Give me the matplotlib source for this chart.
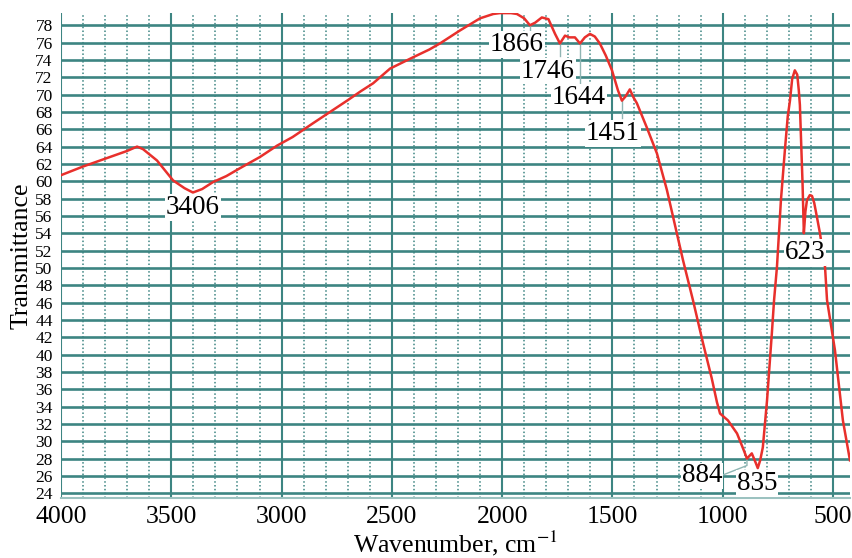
"""
Espectro IR (transmitancia vs numero de onda)
"""
import numpy as np
import matplotlib.pyplot as plt
from matplotlib.ticker import MultipleLocator

# datos
wavenumber = [4000, 3900, 3800, 3700, 3655, 3628, 3565, 3492, 3440, 3402,
              3360, 3311, 3250, 3189, 3098, 3021, 2950, 2857, 2780, 2703,
              2640, 2585, 2508, 2404, 2330, 2282, 2191, 2100, 2040, 2010,
              1960, 1933, 1900, 1874, 1850, 1820, 1790, 1760, 1738, 1715,
              1695, 1670, 1647, 1625, 1602, 1580, 1557, 1530, 1502, 1475,
              1457, 1440, 1421, 1405, 1389, 1344, 1298, 1253, 1225, 1180,
              1135, 1089, 1050, 1026, 1012, 976, 935, 905, 890, 868,
              850, 841, 830, 818, 799, 777, 767, 754, 736, 718,
              705, 695, 685, 673, 662, 655, 650, 645, 638, 632,
              625, 618, 605, 595, 585, 570, 559, 536, 527, 491,
              455, 423]
transmittance = [60.7, 61.7, 62.6, 63.5, 64.0, 63.7, 62.4, 60.1, 59.2, 58.7,
                 59.1, 59.9, 60.6, 61.5, 62.8, 64.1, 65.1, 66.7, 68.0, 69.3,
                 70.4, 71.3, 73.0, 74.3, 75.2, 75.9, 77.4, 78.8, 79.3, 79.4,
                 79.4, 79.3, 78.8, 78.0, 78.3, 78.9, 78.7, 77.0, 75.9, 76.8,
                 76.6, 76.6, 75.9, 76.6, 77.0, 76.7, 75.9, 74.5, 72.8, 70.5,
                 69.3, 69.8, 70.6, 69.7, 69.0, 66.2, 63.2, 59.0, 55.9, 50.9,
                 46.3, 41.3, 37.3, 34.5, 33.2, 32.4, 30.9, 29.0, 28.0, 28.6,
                 27.5, 26.9, 27.8, 29.3, 34.7, 42.5, 46.3, 50.1, 57.8, 63.6,
                 67.5, 69.3, 71.8, 72.8, 72.3, 70.5, 68.8, 65.0, 59.8, 54.0,
                 56.5, 57.8, 58.4, 58.3, 57.5, 55.5, 54.0, 50.1, 46.3, 40.5,
                 32.4, 27.8]

# picos marcados: etiqueta y posicion del texto
peak_labels = ["3406", "1866", "1746", "1644", "1451", "884", "835", "623"]
peak_text_x = [3402, 1933, 1792, 1651, 1497, 1094, 844, 627]
peak_text_y = [57.0, 75.8, 72.7, 69.7, 65.5, 26.0, 25.1, 51.8]

teal = "#3d8582"
guide = "#8fb5b3"

plt.rcParams['font.family'] = ['Liberation Serif', 'DejaVu Serif']
plt.rcParams['mathtext.fontset'] = 'stix'

fig = plt.figure(figsize=(8.52, 5.58), dpi=100)
ax = fig.add_axes([0.0716, 0.1075, 0.926, 0.869])

ax.plot(wavenumber, transmittance, color="#e8302c", lw=1.8, zorder=3)

# lineas guia de los picos
ax.plot([1874, 1874], [78.0, 77.0], color=guide, lw=1, zorder=2)
ax.plot([1738, 1738], [75.9, 74.4], color=guide, lw=1, zorder=2)
ax.plot([1647, 1647], [75.9, 71.2], color=guide, lw=1, zorder=2)
ax.plot([1457, 1457], [69.3, 67.3], color=guide, lw=1, zorder=2)
ax.plot([1010, 890, 890], [26.0, 27.2, 28.0], color=guide, lw=1, zorder=2)

for lab, tx, ty in zip(peak_labels, peak_text_x, peak_text_y):
    ax.text(tx, ty, lab, fontsize=19.5, ha="center", va="center", zorder=4,
            bbox=dict(facecolor="white", edgecolor="none", pad=0.5))

ax.set_xlim(4000, 423)
ax.set_ylim(23.45, 79.4)
ax.xaxis.set_major_locator(MultipleLocator(500))
ax.xaxis.set_minor_locator(MultipleLocator(100))
ax.set_yticks(np.arange(24, 80, 2))
ax.set_axisbelow(True)

ax.grid(which="major", axis="y", color=teal, lw=1.9)
ax.grid(which="major", axis="x", color=teal, lw=1.5)
ax.grid(which="minor", axis="x", color=teal, lw=1.1, ls=(0, (1, 1.5)))

ax.tick_params(which="both", length=0)
ax.tick_params(axis="x", labelsize=18.5, pad=6)
ax.tick_params(axis="y", labelsize=12.5, pad=6)
for s in ["top", "right", "left"]:
    ax.spines[s].set_visible(False)
ax.spines["bottom"].set_color("#9cc2c0")
ax.spines["bottom"].set_linewidth(1.5)

ax.set_xlabel("Wavenumber, cm$^{-1}$", fontsize=18.5, labelpad=0)
ax.set_ylabel("Transmittance", fontsize=18.5, labelpad=2)

fig.savefig("out.png", dpi=100)
